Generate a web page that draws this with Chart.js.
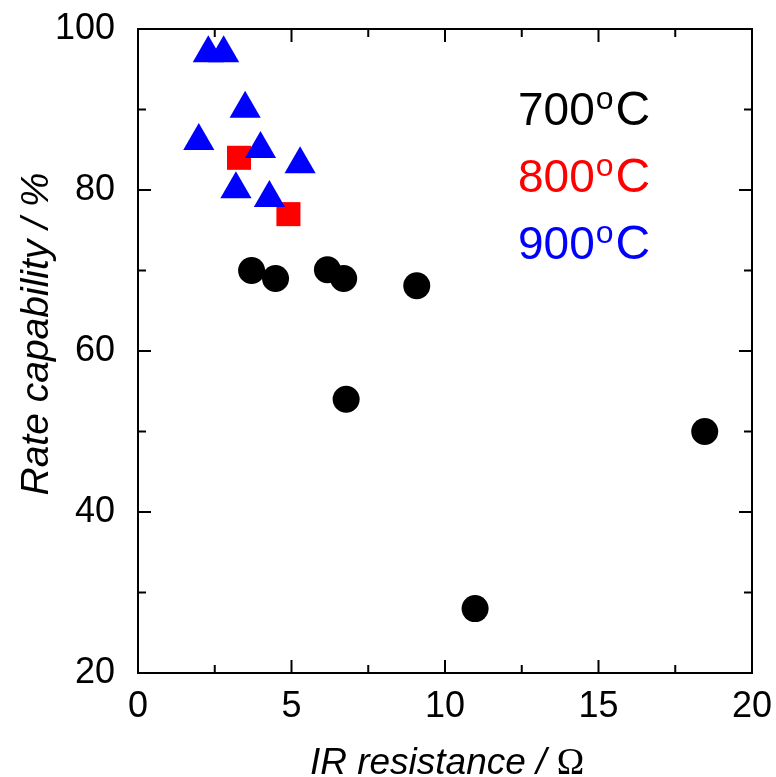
<!DOCTYPE html>
<html>
<head>
<meta charset="utf-8">
<title>Rate capability vs IR resistance</title>
<script src="https://cdn.jsdelivr.net/npm/chart.js@4.4.1/dist/chart.umd.min.js"></script>
<style>
  html, body { margin: 0; padding: 0; background: #fff; }
  canvas { display: block; }
</style>
</head>
<body>
<canvas id="chartRate" width="776" height="777"></canvas>
<script>
/* ── Data: IR resistance (Ω) vs rate capability (%) by firing temperature ── */
const temp700X = [3.70, 4.48, 6.17, 6.70, 9.08, 6.78, 18.46, 10.98];
const temp700Y = [70.0, 69.0, 70.1, 69.0, 68.1, 54.0, 50.0, 28.0];

const temp800X = [3.29, 4.90];
const temp800Y = [84.0, 77.0];

const temp900X = [2.29, 2.79, 3.49, 1.98, 3.99, 5.28, 3.19, 4.28];
const temp900Y = [97.0, 97.0, 90.1, 86.1, 85.1, 83.2, 80.1, 79.0];

const seriesLabels = ['700', '800', '900'];
const seriesColors = ['#000000', '#ff0000', '#0000ff'];

const xTicks = [0, 5, 10, 15, 20];
const yTicks = [20, 40, 60, 80, 100];

const xTitle = ['IR resistance / ', 'Ω'];
const yTitle = 'Rate capability / %';

const FONT = '"Liberation Sans", Arial, Helvetica, sans-serif';
const SERIF = '"Liberation Serif", "Times New Roman", serif';

function toPoints(xs, ys) {
  return xs.map((x, i) => ({ x, y: ys[i] }));
}

// drop the label overhang Chart.js reserves so the frame sits where we want it
function noOverhang(s) {
  s.paddingLeft = s.paddingRight = s.paddingTop = s.paddingBottom = 0;
}

/* ── Closed frame with inward ticks on all four sides ───────────────── */
const framePlugin = {
  id: 'frame',
  afterDatasetsDraw(chart) {
    const { ctx, chartArea: a, scales } = chart;
    const xs = scales.x, ys = scales.y;
    const MAJOR = 13, MINOR = 8;

    const mids = vals => vals.slice(1).map((v, i) => (v + vals[i]) / 2);

    ctx.save();
    ctx.strokeStyle = '#000';
    ctx.lineWidth = 2;
    ctx.strokeRect(a.left, a.top, a.right - a.left, a.bottom - a.top);

    ctx.beginPath();
    const xMaj = xs.ticks.map(t => t.value);
    const yMaj = ys.ticks.map(t => t.value);
    [[xMaj, MAJOR], [mids(xMaj), MINOR]].forEach(([vals, len]) => {
      vals.forEach(v => {
        const px = xs.getPixelForValue(v);
        ctx.moveTo(px, a.bottom); ctx.lineTo(px, a.bottom - len);
        ctx.moveTo(px, a.top);    ctx.lineTo(px, a.top + len);
      });
    });
    [[yMaj, MAJOR], [mids(yMaj), MINOR]].forEach(([vals, len]) => {
      vals.forEach(v => {
        const py = ys.getPixelForValue(v);
        ctx.moveTo(a.left, py);  ctx.lineTo(a.left + len, py);
        ctx.moveTo(a.right, py); ctx.lineTo(a.right - len, py);
      });
    });
    ctx.stroke();
    ctx.restore();
  }
};

/* ── Axis titles (italic, with an upright Ω) ─────────────────────────── */
const titlePlugin = {
  id: 'axisTitles',
  afterDraw(chart) {
    const { ctx, chartArea: a } = chart;
    ctx.save();
    ctx.fillStyle = '#000';
    ctx.textBaseline = 'alphabetic';
    ctx.textAlign = 'left';

    // x title, centred under the frame
    const itFont = `italic 37px ${FONT}`;
    const omFont = `37px ${SERIF}`;
    ctx.font = itFont;
    const w1 = ctx.measureText(xTitle[0]).width;
    ctx.font = omFont;
    const w2 = ctx.measureText(xTitle[1]).width;
    let x = (a.left + a.right) / 2 + 2 - (w1 + w2) / 2;
    const base = 774;
    ctx.font = itFont;
    ctx.fillText(xTitle[0], x, base);
    ctx.font = omFont;
    ctx.fillText(xTitle[1], x + w1, base);

    // y title, rotated
    ctx.translate(48, 334);
    ctx.rotate(-Math.PI / 2);
    ctx.textAlign = 'center';
    ctx.font = `italic 39px ${FONT}`;
    ctx.fillText(yTitle, 0, 0);
    ctx.restore();
  }
};

/* ── Temperature key: "700oC" with a raised small o ─────────────────── */
const keyPlugin = {
  id: 'tempKey',
  afterDraw(chart) {
    const { ctx } = chart;
    const left = 518, firstBase = 125, step = 67;
    ctx.save();
    ctx.textBaseline = 'alphabetic';
    ctx.textAlign = 'left';
    seriesLabels.forEach((label, i) => {
      const base = firstBase + i * step;
      ctx.fillStyle = seriesColors[i];
      ctx.font = `46px ${FONT}`;
      ctx.fillText(label, left, base);
      let x = left + ctx.measureText(label).width + 1;
      ctx.font = `32px ${FONT}`;
      ctx.fillText('o', x, base - 16);
      x += ctx.measureText('o').width + 2;
      ctx.font = `48px ${FONT}`;
      ctx.fillText('C', x, base);
    });
    ctx.restore();
  }
};

const canvas = document.getElementById('chartRate');
new Chart(canvas.getContext('2d'), {
  type: 'scatter',
  data: {
    datasets: [
      {
        label: '900',
        data: toPoints(temp900X, temp900Y),
        pointStyle: 'triangle',
        pointRadius: 18,
        pointHoverRadius: 18,
        backgroundColor: seriesColors[2],
        borderColor: seriesColors[2],
        borderWidth: 0,
        order: 0,
      },
      {
        label: '800',
        data: toPoints(temp800X, temp800Y),
        pointStyle: 'rect',
        pointRadius: 17,
        pointHoverRadius: 17,
        backgroundColor: seriesColors[1],
        borderColor: seriesColors[1],
        borderWidth: 0,
        order: 1,
      },
      {
        label: '700',
        data: toPoints(temp700X, temp700Y),
        pointStyle: 'circle',
        pointRadius: 13.5,
        pointHoverRadius: 13.5,
        backgroundColor: seriesColors[0],
        borderColor: seriesColors[0],
        borderWidth: 0,
        order: 2,
      },
    ],
  },
  options: {
    responsive: false,
    animation: false,
    events: [],
    layout: { padding: { top: 29, right: 24, left: 0, bottom: 0 } },
    plugins: {
      legend: { display: false },
      tooltip: { enabled: false },
    },
    scales: {
      x: {
        type: 'linear',
        min: 0,
        max: 20,
        afterBuildTicks: s => { s.ticks = xTicks.map(value => ({ value })); },
        afterFit: s => { s.height = 104; noOverhang(s); },
        grid: { display: false },
        border: { display: false },
        ticks: {
          color: '#000',
          padding: 4,
          font: { family: FONT, size: 36 },
        },
      },
      y: {
        type: 'linear',
        min: 20,
        max: 100,
        afterBuildTicks: s => { s.ticks = yTicks.map(value => ({ value })); },
        afterFit: s => { s.width = 138; noOverhang(s); },
        grid: { display: false },
        border: { display: false },
        ticks: {
          color: '#000',
          padding: 15,
          font: { family: FONT, size: 36 },
        },
      },
    },
  },
  plugins: [framePlugin, titlePlugin, keyPlugin],
});
</script>
</body>
</html>
